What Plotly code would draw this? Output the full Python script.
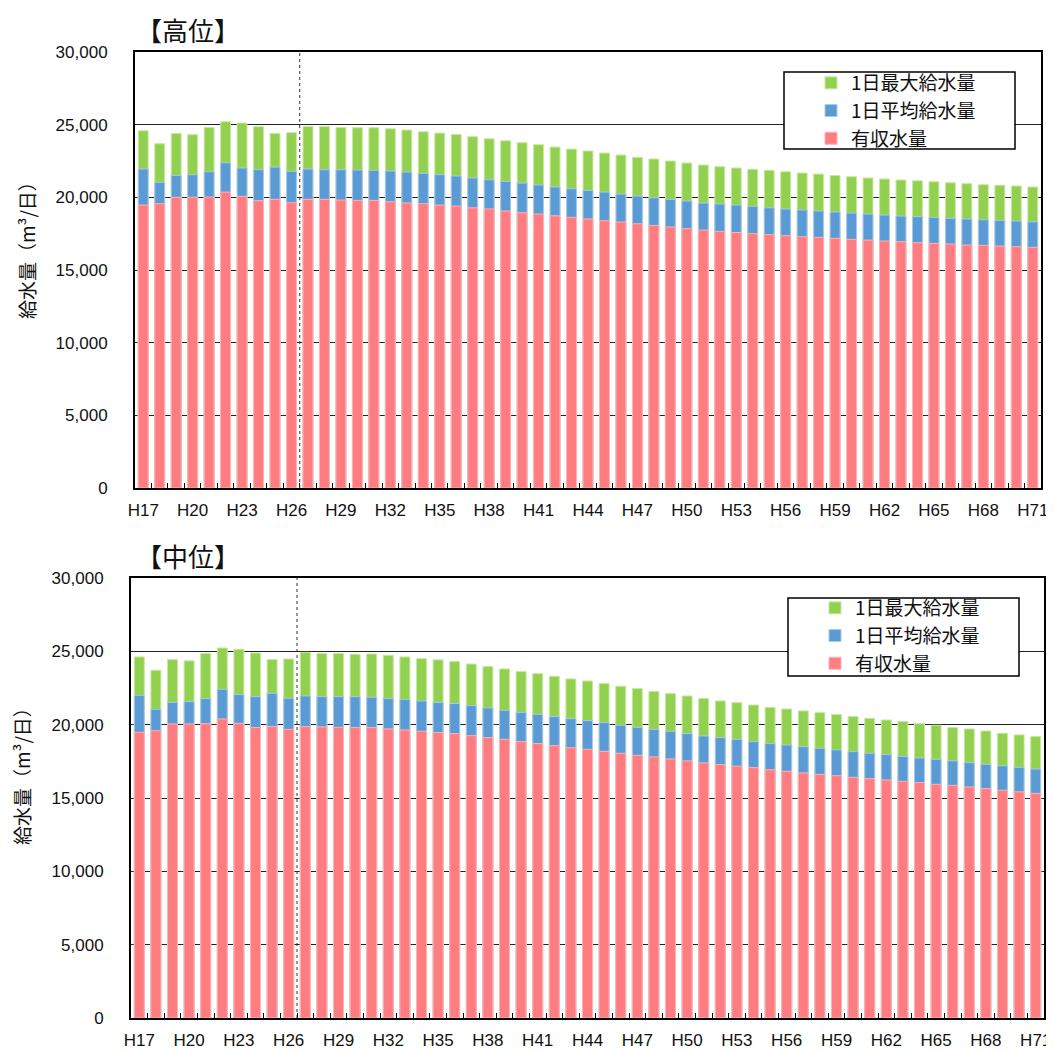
import plotly.graph_objects as go

years = [f"H{n}" for n in range(17, 72)]

# 高位
high_max = [24580, 23690, 24400, 24310, 24810, 25200, 25110, 24860, 24400, 24450,
            24880, 24870, 24810, 24790, 24790, 24720, 24630, 24510, 24420, 24330,
            24170, 24030, 23890, 23760, 23620, 23460, 23320, 23190, 23050, 22910,
            22750, 22640, 22500, 22360, 22220, 22110, 22020, 21930, 21860, 21760,
            21670, 21600, 21510, 21420, 21330, 21260, 21190, 21140, 21070, 21000,
            20940, 20870, 20830, 20780, 20710]
high_avg = [21950, 21030, 21510, 21560, 21760, 22380, 22020, 21900, 22080, 21790,
            21950, 21900, 21900, 21880, 21860, 21810, 21740, 21650, 21560, 21470,
            21330, 21210, 21100, 20980, 20850, 20710, 20590, 20480, 20360, 20230,
            20090, 19970, 19860, 19750, 19610, 19540, 19470, 19380, 19280, 19200,
            19130, 19060, 18990, 18920, 18850, 18780, 18710, 18670, 18620, 18560,
            18510, 18460, 18420, 18370, 18320]
high_rev = [19470, 19560, 20000, 20000, 20020, 20360, 20070, 19770, 19860, 19630,
            19860, 19860, 19810, 19790, 19790, 19700, 19610, 19560, 19470, 19400,
            19280, 19200, 19060, 18940, 18850, 18730, 18620, 18510, 18390, 18300,
            18180, 18070, 17960, 17840, 17750, 17660, 17580, 17500, 17430, 17360,
            17290, 17250, 17180, 17110, 17060, 16990, 16950, 16880, 16830, 16790,
            16720, 16700, 16650, 16600, 16560]

# 中位
mid_max = [24620, 23710, 24440, 24350, 24850, 25230, 25140, 24890, 24440, 24480,
           24930, 24850, 24850, 24800, 24820, 24730, 24620, 24500, 24420, 24310,
           24140, 23960, 23800, 23620, 23480, 23300, 23120, 22980, 22800, 22620,
           22460, 22270, 22120, 21960, 21780, 21620, 21500, 21340, 21180, 21070,
           20940, 20820, 20690, 20550, 20430, 20320, 20210, 20070, 19960, 19800,
           19710, 19570, 19410, 19300, 19190]
mid_avg = [22000, 21050, 21520, 21570, 21780, 22410, 22050, 21910, 22140, 21800,
           21960, 21910, 21910, 21910, 21870, 21780, 21710, 21620, 21520, 21440,
           21300, 21140, 20980, 20840, 20710, 20550, 20410, 20280, 20140, 19960,
           19820, 19680, 19550, 19390, 19230, 19120, 19000, 18840, 18710, 18620,
           18500, 18390, 18280, 18160, 18050, 17960, 17840, 17730, 17640, 17530,
           17410, 17300, 17190, 17090, 16980]
mid_rev = [19480, 19590, 20050, 20050, 20070, 20390, 20090, 19800, 19870, 19680,
           19870, 19850, 19820, 19800, 19800, 19710, 19640, 19550, 19460, 19390,
           19250, 19120, 19000, 18840, 18710, 18570, 18430, 18320, 18180, 18050,
           17910, 17800, 17660, 17530, 17390, 17280, 17170, 17070, 16930, 16820,
           16710, 16610, 16520, 16410, 16320, 16230, 16140, 16050, 15930, 15860,
           15750, 15640, 15530, 15420, 15310]

series_names = ["1日最大給水量", "1日平均給水量", "有収水量"]
colors = ["#92D050", "#5B9BD5", "#FF7C80"]
edge = ["#C8E8A0", "#A9C8EA", "#FFB3B5"]
titles = ["【高位】", "【中位】"]
y_ticks = [0, 5000, 10000, 15000, 20000, 25000, 30000]

# page has an 8px body margin: figure is laid out in screen pixels shifted by 8
OFF = 8
W, H = 1054 - OFF, 1052 - OFF
def px(x):
    return (x - OFF) / W
def py(y):
    return 1 - (y - OFF) / H

fig = go.Figure()
panels = [
    ("x", "y", "legend", [high_max, high_avg, high_rev]),
    ("x2", "y2", "legend2", [mid_max, mid_avg, mid_rev]),
]
for xa, ya, lg, data in panels:
    for name, vals, c, e in zip(series_names, data, colors, edge):
        fig.add_trace(go.Bar(
            x=years, y=vals, name=name, xaxis=xa, yaxis=ya, legend=lg,
            marker=dict(color=c, line=dict(color=e, width=1)),
            width=0.6, hoverinfo="skip",
        ))

tickfont = dict(family="Liberation Sans, Arial", size=17, color="#111")
ticktext = [y if i % 3 == 0 else "" for i, y in enumerate(years)]

def xaxis_cfg(domain, anchor):
    return dict(domain=domain, anchor=anchor, type="category",
                categoryorder="array", categoryarray=years,
                tickmode="array", tickvals=years, ticktext=ticktext,
                tickson="boundaries", ticks="inside", ticklen=5,
                tickcolor="#000", tickwidth=1, ticklabelstandoff=6,
                showline=True, linecolor="#000", linewidth=2, mirror=True,
                showgrid=False, tickfont=tickfont, tickangle=0,
                range=[-0.5, len(years) - 0.5], fixedrange=True,
                automargin=False)

def yaxis_cfg(domain, anchor):
    return dict(domain=domain, anchor=anchor, range=[0, 30000],
                tickvals=y_ticks, tickformat=",d",
                showgrid=True, gridcolor="#222", gridwidth=1,
                showline=True, linecolor="#000", linewidth=2, mirror=True,
                ticks="", ticklabelstandoff=22, tickfont=tickfont,
                zeroline=False, fixedrange=True, automargin=False)

legfont = dict(family="Noto Sans CJK JP", size=19, color="#111")
fig.update_layout(
    width=W, height=H,
    margin=dict(l=0, r=0, t=0, b=0, autoexpand=False),
    paper_bgcolor="white", plot_bgcolor="white",
    barmode="overlay",
    showlegend=True,
    xaxis=xaxis_cfg([px(135), px(1041)], "y"),
    yaxis=yaxis_cfg([py(488), py(52)], "x"),
    xaxis2=xaxis_cfg([px(131), px(1044)], "y2"),
    yaxis2=yaxis_cfg([py(1018), py(578)], "x2"),
    legend=dict(x=px(811), y=py(64), xanchor="left", yanchor="top",
                bgcolor="rgba(0,0,0,0)", borderwidth=0,
                font=legfont, traceorder="normal", tracegroupgap=0),
    legend2=dict(x=px(815), y=py(589), xanchor="left", yanchor="top",
                 bgcolor="rgba(0,0,0,0)", borderwidth=0,
                 font=legfont, traceorder="normal", tracegroupgap=0),
)

# legend boxes (white, covering gridlines)
for x0, x1, y0, y1 in [(784, 1015, 72, 149), (788, 1019, 598, 676)]:
    fig.add_shape(type="rect", xref="paper", yref="paper",
                  x0=px(x0), x1=px(x1), y0=py(y1), y1=py(y0),
                  fillcolor="white", line=dict(color="#000", width=1.5),
                  layer="above")

# dashed separator between actual and projected
for xa, ya in [("x", "y"), ("x2", "y2")]:
    fig.add_shape(type="line", xref=xa, yref=f"{ya} domain",
                  x0=9.5, x1=9.5, y0=0, y1=1,
                  line=dict(color="#333", width=1, dash="dot"), layer="above")

# panel titles
for t, yc in zip(titles, [30, 555]):
    fig.add_annotation(text=t, xref="paper", yref="paper", x=px(134), y=py(yc),
                       xanchor="left", yanchor="middle", showarrow=False,
                       font=dict(family="Noto Sans CJK JP", size=26, color="#111"))

# y-axis titles
for yc, xc in zip([246, 772], [26, 21]):
    fig.add_annotation(text="給水量（m³/日）", xref="paper", yref="paper",
                       x=px(xc), y=py(yc), xanchor="center", yanchor="middle",
                       textangle=-90, showarrow=False,
                       font=dict(family="Noto Sans CJK JP", size=19, color="#111"))

fig.write_html("out.html")
